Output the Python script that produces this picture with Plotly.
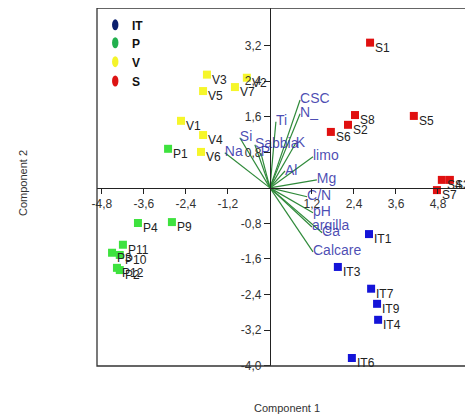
import plotly.graph_objects as go

# ---- data ----
it_names = ["IT1", "IT3", "IT4", "IT6", "IT7", "IT9"]
it_x = [2.83, 1.94, 3.09, 2.34, 2.89, 3.06]
it_y = [-1.04, -1.78, -2.97, -3.83, -2.27, -2.61]

p_names = ["P1", "P2", "P3", "P4", "P9", "P10", "P11", "P12"]
p_x = [-2.91, -4.29, -4.51, -3.77, -2.80, -4.29, -4.20, -4.37]
p_y = [0.88, -1.85, -1.46, -0.79, -0.77, -1.51, -1.28, -1.80]

v_names = ["V1", "V2", "V3", "V4", "V5", "V6", "V7"]
v_x = [-2.54, -0.66, -1.80, -1.91, -1.91, -1.97, -1.00]
v_y = [1.51, 2.48, 2.55, 1.19, 2.18, 0.81, 2.27]

s_names = ["S1", "S2", "S3", "S4", "S5", "S6", "S7", "S8"]
s_x = [2.86, 2.23, 5.14, 4.91, 4.11, 1.74, 4.77, 2.43]
s_y = [3.27, 1.42, 0.18, 0.18, 1.62, 1.26, -0.05, 1.64]

var_names = ["CSC", "N_", "Ti", "K", "limo", "Al", "Mg", "C/N", "pH",
             "argilla", "Ca", "Calcare", "Si", "Sabbia", "Na", "P"]
var_x = [0.86, 0.86, 0.17, 0.74, 1.23, 0.43, 1.34, 1.06, 1.23,
         1.20, 1.49, 1.23, -0.86, -0.43, -1.29, -0.26]
var_y = [1.98, 1.67, 1.49, 1.01, 0.70, 0.38, 0.18, -0.20, -0.56,
         -0.88, -1.01, -1.44, 1.13, 0.97, 0.79, 0.79]

group_names = ["IT", "P", "V", "S"]

x_tickvals = [-4.8, -3.6, -2.4, -1.2, 1.2, 2.4, 3.6, 4.8]
x_ticktext = ["-4,8", "-3,6", "-2,4", "-1,2", "1,2", "2,4", "3,6", "4,8"]
y_tickvals = [-4.0, -3.2, -2.4, -1.6, -0.8, 0.8, 1.6, 2.4, 3.2]
y_ticktext = ["-4,0", "-3,2", "-2,4", "-1,6", "-0,8", "0,8", "1,6", "2,4", "3,2"]

x_range = [-4.94, 5.80]
y_range = [-4.01, 4.05]

fig = go.Figure()

# loading vectors
lx, ly = [], []
for vx, vy in zip(var_x, var_y):
    lx += [0, vx, None]
    ly += [0, vy, None]
fig.add_trace(go.Scatter(x=lx, y=ly, mode="lines",
                         line=dict(color="#2f8a3a", width=1.2),
                         showlegend=False, hoverinfo="skip"))
fig.add_trace(go.Scatter(x=var_x, y=var_y, mode="text", text=var_names,
                         textposition="middle right",
                         textfont=dict(family="Arial", size=14, color="rgba(45,45,165,0.85)"),
                         showlegend=False, hoverinfo="skip"))

point_cols = ["#1414d8", "#3ee23e", "#f6f62a", "#e01010"]
legend_cols = ["#0b1f6e", "#22b04e", "#f4f42a", "#dd1414"]
series = [(it_names, it_x, it_y), (p_names, p_x, p_y),
          (v_names, v_x, v_y), (s_names, s_x, s_y)]

annotations = []
for (nm, xs, ys), col, gname in zip(series, point_cols, group_names):
    fig.add_trace(go.Scatter(x=xs, y=ys, mode="markers",
                             marker=dict(symbol="square", size=8, color=col),
                             showlegend=False, name=gname))
    for t, xx, yy in zip(nm, xs, ys):
        annotations.append(dict(x=xx, y=yy, xref="x", yref="y", text=t,
                                showarrow=False, xanchor="left", yanchor="middle",
                                xshift=3, yshift=-5,
                                font=dict(family="Arial", size=12, color="#222")))

# legend drawn as ellipses + text
shapes = [dict(type="rect", xref="paper", yref="paper", x0=0, x1=1.03, y0=0, y1=1,
               line=dict(color="#333", width=1.3), layer="above")]
leg_y = [0.953, 0.903, 0.850, 0.796]
for gname, col, yy in zip(group_names, legend_cols, leg_y):
    shapes.append(dict(type="circle", xref="paper", yref="paper",
                       x0=0.040, x1=0.057, y0=yy - 0.0155, y1=yy + 0.0155,
                       fillcolor=col, line=dict(width=0)))
    annotations.append(dict(x=0.088, y=yy - 0.004, xref="paper", yref="paper",
                            text="<b>" + gname + "</b>", showarrow=False,
                            xanchor="left", yanchor="middle",
                            font=dict(family="Arial", size=12, color="#111")))

annotations += [
    dict(text="Component 1", xref="paper", yref="paper", x=0.505, y=-0.117,
         xanchor="center", yanchor="middle", showarrow=False,
         font=dict(family="Arial", size=11, color="#333")),
    dict(text="Component 2", xref="paper", yref="paper", x=-0.197, y=0.511,
         xanchor="center", yanchor="middle", textangle=-90, showarrow=False,
         font=dict(family="Arial", size=11, color="#333")),
]

ypos = (0 - y_range[0]) / (y_range[1] - y_range[0])
xpos = (0 - x_range[0]) / (x_range[1] - x_range[0])

fig.update_layout(
    width=465, height=408,
    margin=dict(l=89, r=0, t=0, b=50, autoexpand=False),
    paper_bgcolor="white", plot_bgcolor="white",
    showlegend=False,
    font=dict(family="Arial", size=12, color="#333"),
    xaxis=dict(range=x_range, anchor="free", position=ypos,
               tickvals=x_tickvals, ticktext=x_ticktext,
               showgrid=False, zeroline=False, showline=True,
               linecolor="#222", linewidth=1, ticks="outside", ticklen=5,
               tickcolor="#222", tickfont=dict(size=12, color="#333")),
    yaxis=dict(range=y_range, anchor="free", position=xpos,
               tickvals=y_tickvals, ticktext=y_ticktext,
               showgrid=False, zeroline=False, showline=True,
               linecolor="#222", linewidth=1, ticks="outside", ticklen=6,
               tickcolor="#222", tickfont=dict(size=12, color="#333")),
    shapes=shapes,
    annotations=annotations,
)

fig.write_html("out.html")
